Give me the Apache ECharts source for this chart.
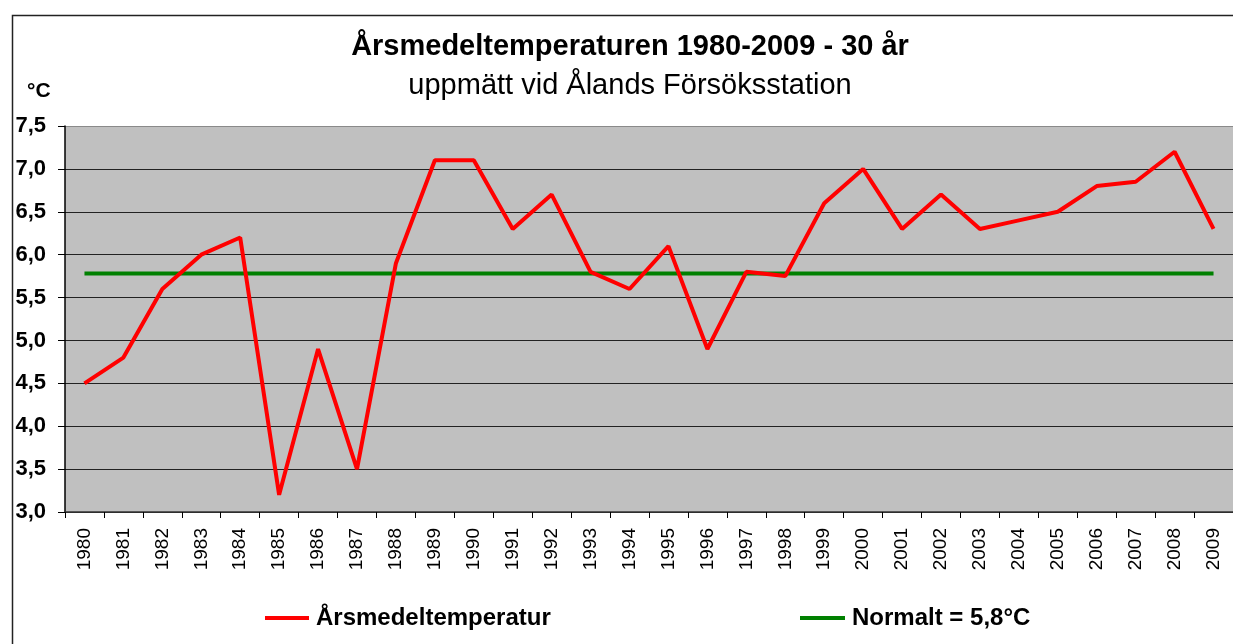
<!DOCTYPE html>
<html><head><meta charset="utf-8">
<script src="https://cdn.jsdelivr.net/npm/echarts@6/dist/echarts.min.js"></script>
<style>html,body{margin:0;padding:0;background:#fff}#c{width:1233px;height:644px}</style>
</head><body><div id="c"></div>
<script>
const years = ['1980','1981','1982','1983','1984','1985','1986','1987','1988','1989','1990','1991','1992','1993','1994','1995','1996','1997','1998','1999','2000','2001','2002','2003','2004','2005','2006','2007','2008','2009'];
const annualMean = [4.5,4.8,5.6,6.0,6.2,3.2,4.9,3.5,5.9,7.1,7.1,6.3,6.7,5.8,5.6,6.1,4.9,5.8,5.75,6.6,7.0,6.3,6.7,6.3,6.4,6.5,6.8,6.85,7.2,6.3];
const normalValue = 5.78;
const normalLine = years.map(() => normalValue);
const seriesNames = ['Årsmedeltemperatur', 'Normalt = 5,8°C'];
const FA = '"Liberation Sans", Arial, sans-serif';

const chart = echarts.init(document.getElementById('c'), null, {renderer: 'canvas'});
chart.setOption({
  backgroundColor: '#fff',
  animation: false,
  title: [
    {text: 'Årsmedeltemperaturen 1980-2009 - 30 år', left: 630, textAlign: 'center', top: 32, padding: 0,
     textStyle: {fontFamily: FA, fontSize: 29, fontWeight: 'bold', color: '#000'}},
    {text: 'uppmätt vid Ålands Försöksstation', left: 630, textAlign: 'center', top: 71, padding: 0,
     textStyle: {fontFamily: FA, fontSize: 29, fontWeight: 'normal', color: '#000'}},
    {text: '°C', left: 27, top: 81, padding: 0, textStyle: {fontFamily: FA, fontSize: 21, fontWeight: 'bold', color: '#000'}}
  ],
  graphic: [
    {type: 'rect', left: 10, top: 13, shape: {width: 1240, height: 650}, style: {fill: 'none', stroke: '#222', lineWidth: 1.5}, z: 100}
  ],
  legend: [
    {data: [seriesNames[0]], left: 265, top: 606, padding: 0, icon: 'rect', itemWidth: 44, itemHeight: 4, itemGap: 6,
     textStyle: {fontFamily: FA, fontSize: 24, fontWeight: 'bold', color: '#000', padding: [0,0,0,2]}},
    {data: [seriesNames[1]], left: 800, top: 606, padding: 0, icon: 'rect', itemWidth: 45, itemHeight: 4, itemGap: 6,
     textStyle: {fontFamily: FA, fontSize: 24, fontWeight: 'bold', color: '#000', padding: [0,0,0,2]}}
  ],
  grid: {left: 65, top: 126, width: 1180, height: 386, backgroundColor: '#C0C0C0', show: true, borderWidth: 0},
  xAxis: {
    type: 'category', data: years, boundaryGap: true,
    axisLine: {lineStyle: {color: '#333', width: 1.5}},
    axisTick: {show: true, interval: 0, length: 6, lineStyle: {color: '#000'}},
    axisLabel: {interval: 0, rotate: 90, margin: 16, fontFamily: FA, fontSize: 19, color: '#000'},
    splitLine: {show: false}
  },
  yAxis: {
    type: 'value', min: 3, max: 7.5, interval: 0.5,
    axisLine: {show: true, lineStyle: {color: '#000', width: 1.5}},
    axisTick: {show: true, length: 7, lineStyle: {color: '#000'}},
    axisLabel: {margin: 19, fontFamily: FA, fontSize: 22, fontWeight: 'bold', color: '#000',
      formatter: v => v.toFixed(1).replace('.', ',')},
    splitLine: {show: true, lineStyle: {color: ['#222','#222','#222','#222','#222','#222','#222','#222','#222','#8a8a8a'], width: 1}}
  },
  series: [
    {name: seriesNames[0], type: 'line', data: annualMean, symbol: 'none', lineStyle: {color: '#FF0000', width: 4}, itemStyle: {color: '#FF0000'}, z: 3},
    {name: seriesNames[1], type: 'line', data: normalLine, symbol: 'none', lineStyle: {color: '#008000', width: 4}, itemStyle: {color: '#008000'}, z: 2}
  ]
});
</script></body></html>
